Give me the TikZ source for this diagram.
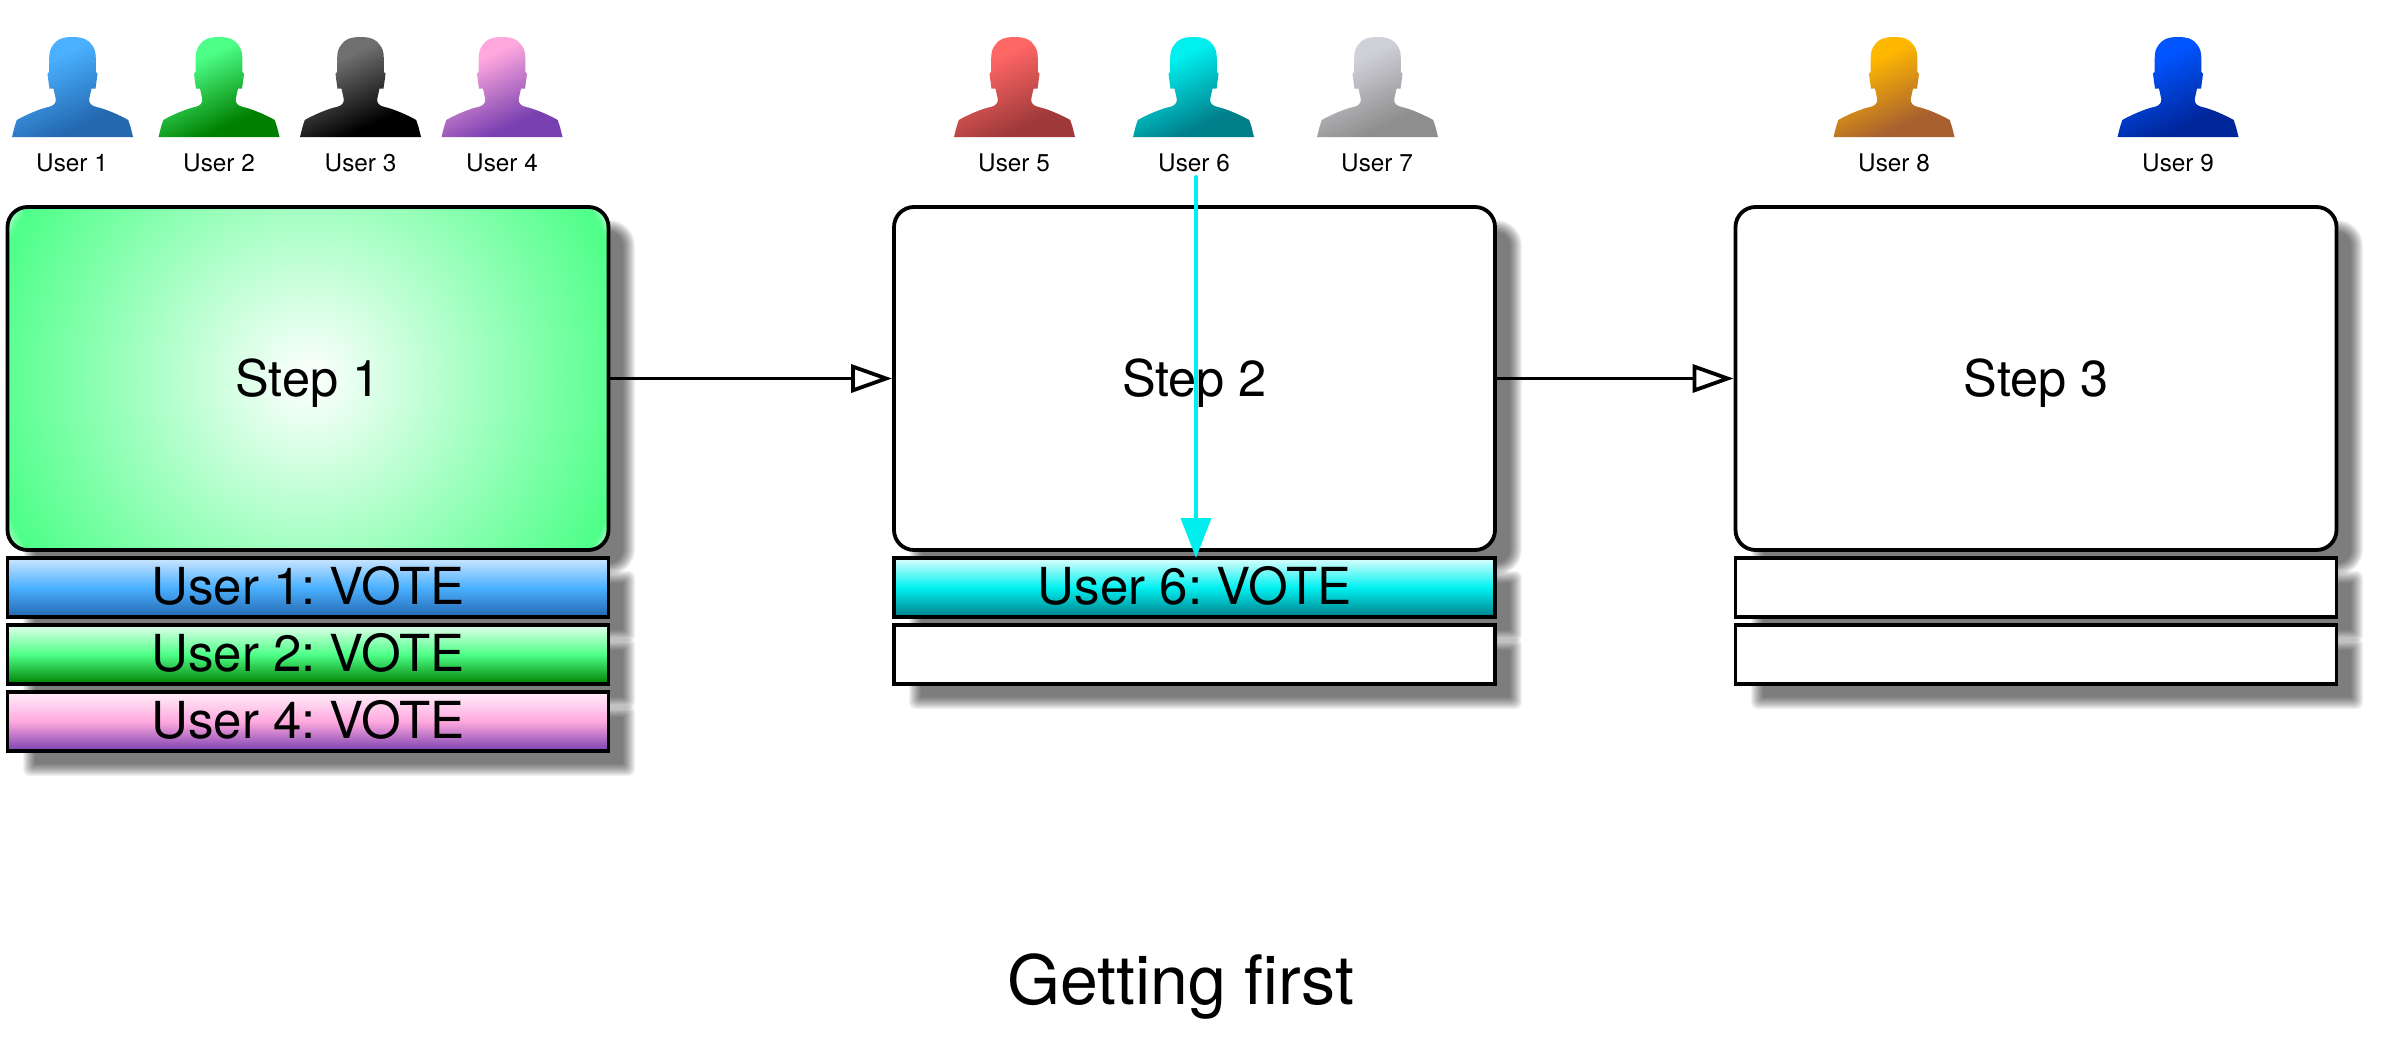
\documentclass[tikz,border=0pt]{standalone}
\usepackage{fontspec}
\setmainfont{TeX Gyre Heros}
\usetikzlibrary{arrows.meta}
\frenchspacing
\definecolor{glowgreen}{HTML}{4DFF88}
\definecolor{glowedge}{HTML}{B8FFD0}
\definecolor{linecyan}{HTML}{00EEEE}
\definecolor{sgA}{HTML}{4AB0FF}\definecolor{sdA}{HTML}{2468B0}\definecolor{stA}{HTML}{CCE6FF}
\definecolor{sgB}{HTML}{4DFF88}\definecolor{sdB}{HTML}{008000}\definecolor{stB}{HTML}{E2FFEA}
\definecolor{sgC}{HTML}{707070}\definecolor{sdC}{HTML}{000000}
\definecolor{sgD}{HTML}{FFA8DE}\definecolor{sdD}{HTML}{7840B0}\definecolor{stD}{HTML}{FFF0FA}
\definecolor{sgE}{HTML}{FF6666}\definecolor{sdE}{HTML}{A03A3A}
\definecolor{sgF}{HTML}{00F0F0}\definecolor{sdF}{HTML}{007F8A}\definecolor{stF}{HTML}{DFFFFF}
\definecolor{sgG}{HTML}{D0D0D8}\definecolor{sdG}{HTML}{8E8E8E}
\definecolor{sgH}{HTML}{FFB800}\definecolor{sdH}{HTML}{A86030}
\definecolor{sgI}{HTML}{0055FF}\definecolor{sdI}{HTML}{00269A}
\pgfdeclareradialshading{stepglow}{\pgfpoint{0bp}{0bp}}{%
  color(0bp)=(white);
  color(23.8bp)=(glowgreen);
  color(24.8bp)=(glowedge);
  color(50bp)=(glowedge)}
\newcommand\iconshade[1]{%
  \pgfdeclareverticalshading{icon#1}{100bp}{%
    color(0bp)=(sd#1); color(32bp)=(sd#1); color(66bp)=(sg#1); color(100bp)=(sg#1)}}
\iconshade{A}\iconshade{B}\iconshade{C}\iconshade{D}\iconshade{E}\iconshade{F}\iconshade{G}\iconshade{H}\iconshade{I}
% soft shadow: x1 y1 x2 y2 radius
\newcommand\softshadow[5]{%
  \foreach \e in {-6,-5,...,6}{%
    \pgfmathsetmacro\rr{max(#5+\e,\e/2+4)}%
    \fill[black,opacity=0.052,rounded corners=\rr pt]
      (#1+21-\e,#2+19-\e) rectangle (#3+21+\e,#4+19+\e);
  }%
}
% user icon: centre x, letter of its colours
\newcommand\usericon[2]{%
  \shade[shading=icon#2,shading angle=25,shift={(#1,37)}]
    (0,0) .. controls (11,0) and (16,3) .. (19,7.5)
    .. controls (22,11) and (23.3,15) .. (23.3,21)
    -- (23.3,35) -- (25,36.5) -- (24.5,41) -- (23,51.7) -- (19,51.7) -- (16.7,62)
    .. controls (16.2,66) and (19,69) .. (24,70)
    .. controls (32,71.5) and (47,78) .. (55.7,83)
    -- (58,90) -- (60.5,100) -- (-60.5,100) -- (-58,90) -- (-55.7,83)
    .. controls (-47,78) and (-32,71.5) .. (-24,70)
    .. controls (-19,69) and (-16.2,66) .. (-16.7,62)
    -- (-19,51.7) -- (-23,51.7) -- (-24.5,41) -- (-25,36.5) -- (-23.3,35) -- (-23.3,21)
    .. controls (-23.3,15) and (-22,11) .. (-19,7.5)
    .. controls (-16,3) and (-11,0) .. (0,0) -- cycle;
}
\tikzset{
  userlabel/.style={inner sep=0pt,outer sep=0pt,font=\fontsize{24.3}{24}\selectfont,text height=17pt,text depth=0pt},
  stepbox/.style={draw=black,line width=3.8pt,rounded corners=20pt,fill=white,minimum width=601pt,minimum height=343pt,
    inner sep=0pt,outer sep=0pt,font=\fontsize{50.5}{50}\selectfont,text height=36pt,text depth=0pt},
  votebox/.style={draw=black,line width=3.8pt,fill=white,minimum width=601pt,minimum height=59pt,
    inner sep=0pt,outer sep=0pt,font=\fontsize{51}{50}\selectfont,text height=36pt,text depth=3pt},
  votecol/.style n args={3}{top color=#1,bottom color=#3,middle color=#2},
  flow/.style={draw=black,line width=3.8pt,shorten >=2pt,-{Triangle[open,length=41pt,width=28pt,fill=white]}},
  cyanflow/.style={draw=linecyan,line width=4pt,line cap=round,-{Triangle[length=40pt,width=30pt,fill=linecyan]}},
}
\begin{document}
\begin{tikzpicture}[x=1pt,y=-1pt]
\useasboundingbox (0,0) rectangle (2383,1041);
\fill[white] (0,0) rectangle (2383,1041);
% shadows
\softshadow{8}{207}{608}{550}{20}
\softshadow{8}{558}{608}{617}{0}
\softshadow{8}{625}{608}{684}{0}
\softshadow{8}{692}{608}{751}{0}
\softshadow{894}{207}{1495}{550}{20}
\softshadow{894}{558}{1495}{617}{0}
\softshadow{894}{625}{1495}{684}{0}
\softshadow{1736}{207}{2336}{550}{20}
\softshadow{1736}{558}{2336}{617}{0}
\softshadow{1736}{625}{2336}{684}{0}
% user icons
\usericon{72.5}{A}
\usericon{219}{B}
\usericon{360.5}{C}
\usericon{502}{D}
\usericon{1014.5}{E}
\usericon{1193.5}{F}
\usericon{1377.5}{G}
\usericon{1894}{H}
\usericon{2178}{I}
% user labels
\node[userlabel] (l1) at (72,162.5) {User 1};
\node[userlabel] (l2) at (219,162.5) {User 2};
\node[userlabel] (l3) at (360.5,162.5) {User 3};
\node[userlabel] (l4) at (502,162.5) {User 4};
\node[userlabel] (l5) at (1014,162.5) {User 5};
\node[userlabel] (l6) at (1194,162.5) {User 6};
\node[userlabel] (l7) at (1377,162.5) {User 7};
\node[userlabel] (l8) at (1894,162.5) {User 8};
\node[userlabel] (l9) at (2178,162.5) {User 9};
% steps
\node[stepbox,path picture={\shade[shading=stepglow]
   ([shift={(-345,-345)}]path picture bounding box.center) rectangle
   ([shift={(345,345)}]path picture bounding box.center);}] (step1) at (308,378.5) {Step 1};
\node[stepbox] (step2) at (1194.5,378.5) {Step 2};
\node[stepbox] (step3) at (2036,378.5) {Step 3};
% vote slots
\node[votebox,votecol={stA}{sgA}{sdA}] (v11) at (308,587.5) {User 1: VOTE};
\node[votebox,votecol={stB}{sgB}{sdB}] (v12) at (308,654.5) {User 2: VOTE};
\node[votebox,votecol={stD}{sgD}{sdD}] (v13) at (308,721.5) {User 4: VOTE};
\node[votebox,votecol={stF}{sgF}{sdF}] (v21) at (1194.5,587.5) {User 6: VOTE};
\node[votebox] (v22) at (1194.5,654.5) {};
\node[votebox] (v31) at (2036,587.5) {};
\node[votebox] (v32) at (2036,654.5) {};
% connectors
\draw[flow] (step1.east) -- (step2.west);
\draw[flow] (step2.east) -- (step3.west);
\coordinate (vstart) at (1196,177);
\draw[cyanflow] (vstart) -- (vstart |- v21.north);
% title
\node[inner sep=0pt,font=\fontsize{68}{68}\selectfont,text height=49pt,text depth=0pt] (title) at (1181,980) {Getting first};
\end{tikzpicture}
\end{document}
